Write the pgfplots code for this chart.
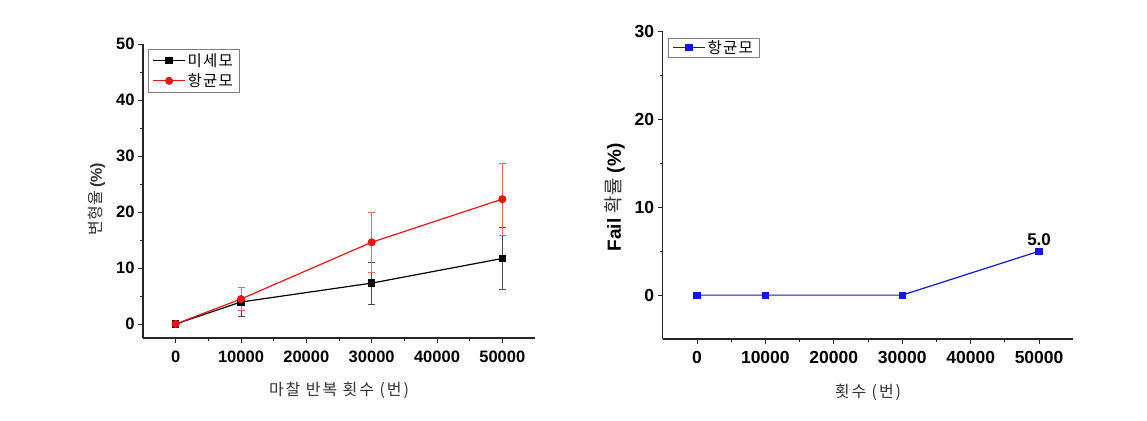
\documentclass[border=0pt]{standalone}
\usepackage{pgfplots}
\pgfplotsset{compat=1.18}
\usepackage{fontspec}
\setmainfont{Liberation Sans}
\newfontfamily\kr{Noto Sans CJK KR}
\newfontfamily\krw[LetterSpace=12]{Noto Sans CJK KR}
\newfontfamily\krl[LetterSpace=8]{Noto Sans CJK KR}
\definecolor{myred}{RGB}{235,20,20}
\definecolor{myblue}{RGB}{20,20,230}
\pgfplotsset{
  common/.style={
    scale only axis,
    axis line style={line width=1.1bp, black!85},
    axis x line*=bottom,
    axis y line*=left,
    tick align=outside,
    major tick length=5bp,
    minor tick length=3bp,
    tick style={line width=0.8bp, black!85},
    xmin=-5000, xmax=55000,
    xtick={0,10000,20000,30000,40000,50000},
    minor x tick num=1,
    minor y tick num=1,
    scaled x ticks=false,
    /pgf/number format/assume math mode=true,
    /pgf/number format/set thousands separator={},
    xticklabel style={yshift=-4bp},
    legend cell align=left,
    legend style={draw=black!50, line width=0.6bp, font=\krl\fontsize{15.5bp}{17bp}\selectfont,
      inner xsep=4.5bp, inner ysep=2bp, row sep=2bp},
  },
  legline/.style={legend image code/.code={%
    \draw[mark repeat=2,mark phase=2,##1] plot coordinates {(0bp,0bp) (16bp,0bp) (32bp,0bp)};}},
}
\begin{document}
\begin{tikzpicture}[x=1bp,y=1bp]
\path[use as bounding box] (0,0) rectangle (1147,420);
\begin{axis}[common,
  at={(143bp,82bp)}, anchor=south west,
  width=392bp, height=294bp,
  ymin=-2.5, ymax=50,
  ytick={0,10,20,30,40,50},
  ticklabel style={font=\bfseries\fontsize{16.5bp}{18bp}\selectfont},
  xlabel={\krw\fontsize{16bp}{18bp}\selectfont\color{black!80}마찰 반복 횟수 (번)},
  ylabel={\kr\fontsize{16bp}{18bp}\selectfont\color{black!80}변형율 \textbf{\rmfamily(\%)}},
  xlabel style={yshift=-13bp},
  ylabel style={yshift=4bp, xshift=-8bp},
  legend style={at={(0.012,0.983)}, anchor=north west},
  legline,
]
\addplot[black, line width=1.2bp, mark=square*, mark size=3.2bp, mark options={solid},
  error bars/.cd, y dir=both, y explicit,
  error bar style={line width=0.6bp, black!70},
  error mark options={rotate=90, mark size=3.5bp, black!70, line width=0.6bp}]
coordinates {
  (0,0) +- (0,0)
  (10000,3.93) +- (0,2.6)
  (30000,7.3) +- (0,3.7)
  (50000,11.7) +- (0,5.5)
};
\addlegendentry{미세모}
\addplot[myred, line width=1.2bp, mark=*, mark size=3.4bp, mark options={solid},
  error bars/.cd, y dir=both, y explicit,
  error bar style={line width=0.6bp, myred!65},
  error mark options={rotate=90, mark size=3.5bp, myred!65, line width=0.6bp}]
coordinates {
  (0,0) +- (0,0)
  (10000,4.46) +- (0,2.1)
  (30000,14.6) +- (0,5.4)
  (50000,22.3) +- (0,6.4)
};
\addlegendentry{항균모}
\end{axis}
\begin{axis}[common,
  at={(662.7bp,81bp)}, anchor=south west,
  width=410.6bp, height=307.3bp,
  ymin=-5, ymax=30,
  ytick={0,10,20,30},
  ticklabel style={font=\bfseries\fontsize{17.5bp}{19bp}\selectfont},
  xlabel={\krw\fontsize{16bp}{18bp}\selectfont\color{black!80}횟수 (번)},
  ylabel={\fontsize{19bp}{21bp}\selectfont\textbf{Fail} {\kr\color{black!80}확률} \textbf{(\%)}},
  xlabel style={yshift=-13bp},
  ylabel style={yshift=3bp, xshift=-12bp},
  legend style={at={(0.012,0.98)}, anchor=north west, inner ysep=0.5bp},
  legline,
]
\addplot[myblue, line width=1.2bp, mark=square*, mark size=3bp]
coordinates {(0,0) (10000,0) (30000,0) (50000,5)};
\addlegendentry{항균모}
\addplot[draw=none, forget plot, nodes near coords, point meta=explicit symbolic,
  nodes near coords style={font=\bfseries\fontsize{17bp}{19bp}\selectfont, anchor=south, yshift=2bp}]
coordinates {(50000,5) [5.0]};
\end{axis}
\end{tikzpicture}
\end{document}
